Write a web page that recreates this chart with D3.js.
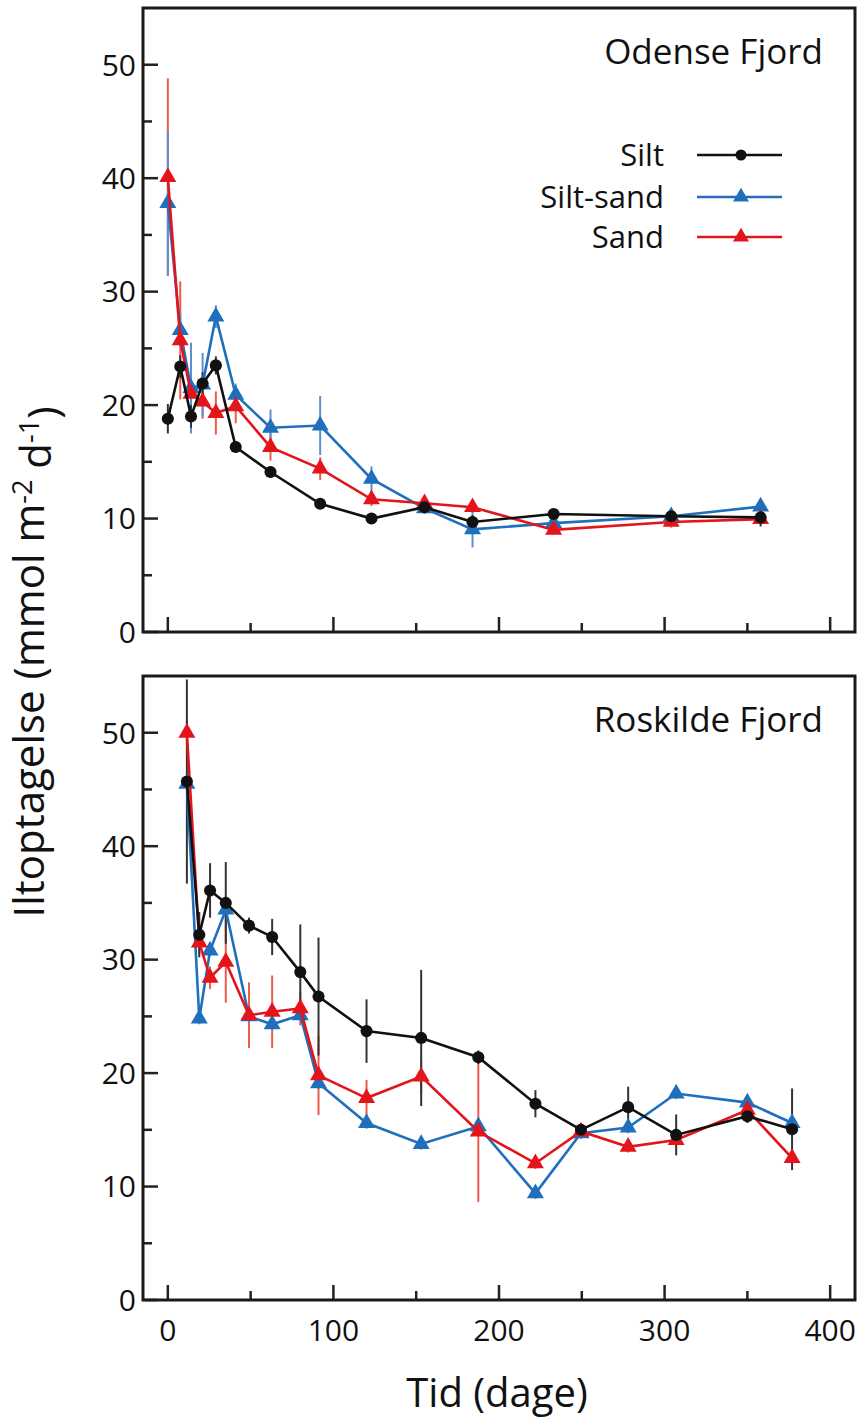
<!DOCTYPE html>
<html>
<head>
<meta charset="utf-8">
<script src="https://cdn.jsdelivr.net/npm/d3@7"></script>
<style>
  body { margin: 0; background: #fff; }
  text { font-family: "Open Sans", "Noto Sans", sans-serif; fill: #111; }
</style>
</head>
<body>
<div id="chart"></div>
<script>
// Odense Fjord (top)
const odenseDays = [0, 7.5, 14, 21, 29, 41, 62, 92, 123, 155, 184, 233, 304, 358];
const odenseSilt = [18.8, 23.4, 19.0, 21.9, 23.5, 16.3, 14.1, 11.3, 10.0, 11.0, 9.7, 10.4, 10.2, 10.1];
const odenseSiltSand = [37.8, 26.6, 21.5, 21.8, 27.8, 20.9, 18.0, 18.2, 13.5, 10.9, 9.05, 9.6, 10.2, 11.05];
const odenseSand = [40.1, 25.7, 21.0, 20.3, 19.3, 19.9, 16.3, 14.4, 11.7, 11.35, 11.0, 9.0, 9.7, 9.95];
const odenseSiltErr = [1.3, 1.0, 1.0, 1.0, 0.8, 0.5, 0.5, 0.4, 0.4, 0.5, 0.6, 0.4, 0.5, 0.8];
const odenseSiltSandErr = [6.4, 1.5, 4.0, 2.8, 1.0, 1.0, 1.6, 2.6, 1.1, 0.5, 1.6, 0.4, 0.5, 0.5];
const odenseSandErr = [8.7, 5.2, 2.0, 1.5, 1.9, 1.5, 1.2, 1.0, 0.6, 0.4, 0.5, 0.4, 0.5, 0.5];

// Roskilde Fjord (bottom)
const roskildeDays = [11.5, 19, 25.5, 35, 49, 63, 80, 91, 120, 153, 187.5, 222, 249.5, 278, 307, 350, 377];
const roskildeSilt = [45.7, 32.2, 36.1, 35.0, 33.0, 32.0, 28.9, 26.75, 23.7, 23.1, 21.4, 17.3, 15.0, 17.0, 14.55, 16.2, 15.05];
const roskildeSiltSand = [45.5, 24.8, 30.8, 34.4, 25.0, 24.3, 25.1, 19.1, 15.6, 13.75, 15.3, 9.4, 14.7, 15.2, 18.2, 17.4, 15.6];
const roskildeSand = [50.0, 31.5, 28.4, 29.8, 25.1, 25.4, 25.7, 19.8, 17.8, 19.7, 14.85, 12.05, 14.85, 13.5, 14.1, 16.75, 12.5];
const roskildeSiltErr = [9.0, 2.0, 2.4, 3.6, 0.7, 1.6, 4.2, 5.2, 2.8, 6.0, 0.6, 1.2, 0.5, 1.8, 1.8, 0.6, 3.6];
const roskildeSiltSandErr = [0.5, 0.5, 0.5, 1.0, 0.5, 0.5, 0.5, 0.5, 0.5, 0.5, 0.5, 0.5, 0.5, 0.5, 0.5, 0.5, 0.5];
const roskildeSandErr = [1.0, 1.0, 1.0, 3.6, 2.9, 3.2, 1.5, 3.5, 1.6, 1.5, 6.2, 0.5, 0.5, 0.5, 0.5, 0.5, 0.5];

const seriesNames = ["Silt", "Silt-sand", "Sand"];
const xTickLabels = [0, 100, 200, 300, 400];
const yTickLabels = [0, 10, 20, 30, 40, 50];

const colors = { "Silt": "#111111", "Silt-sand": "#1f6fbd", "Sand": "#e4141b" };
const errColors = { "Silt": "#333333", "Silt-sand": "#5b8fd0", "Sand": "#ef5a4a" };

const width = 859, height = 1419;
const svg = d3.select("#chart").append("svg")
  .attr("width", width)
  .attr("height", height);

const left = 143, right = 855;
const x = d3.scaleLinear().domain([-15, 415]).range([left, right]);

function drawPanel(top, bottom, title, days, vals, errs, showXLabels, showLegend) {
  const y = d3.scaleLinear().domain([0, 55]).range([bottom, top]);
  const g = svg.append("g");

  // ticks (inward)
  const yMinor = d3.range(0, 55, 5);
  g.selectAll(".ytick").data(yMinor).enter().append("line")
    .attr("x1", left).attr("x2", d => left + (d % 10 === 0 ? 15 : 9))
    .attr("y1", d => y(d)).attr("y2", d => y(d))
    .attr("stroke", "#222").attr("stroke-width", 2.5);
  const xMinor = d3.range(0, 401, 50);
  g.selectAll(".xtick").data(xMinor).enter().append("line")
    .attr("x1", d => x(d)).attr("x2", d => x(d))
    .attr("y1", bottom).attr("y2", d => bottom - (d % 100 === 0 ? 15 : 9))
    .attr("stroke", "#222").attr("stroke-width", 2.5);

  g.selectAll(".ylab").data(yTickLabels).enter().append("text")
    .attr("x", 136).attr("y", d => y(d)).attr("dy", "0.36em")
    .attr("text-anchor", "end").style("font-size", "30px")
    .text(d => d);

  if (showXLabels) {
    g.selectAll(".xlab").data(xTickLabels).enter().append("text")
      .attr("x", d => x(d)).attr("y", bottom + 41)
      .attr("text-anchor", "middle").style("font-size", "30px")
      .text(d => d);
  }

  // error bars (sand under silt-sand, silt on top)
  ["Sand", "Silt-sand", "Silt"].forEach(name => {
    const i = seriesNames.indexOf(name);
    g.selectAll(null).data(days).enter().append("line")
      .attr("x1", d => x(d)).attr("x2", d => x(d))
      .attr("y1", (d, j) => y(vals[i][j] + errs[i][j]))
      .attr("y2", (d, j) => y(vals[i][j] - errs[i][j]))
      .attr("stroke", errColors[name]).attr("stroke-width", 2);
  });

  // lines and markers
  ["Silt-sand", "Sand", "Silt"].forEach(name => {
    const i = seriesNames.indexOf(name);
    const pts = days.map((d, j) => [d, vals[i][j]]);
    const line = d3.line().x(d => x(d[0])).y(d => y(d[1]));
    g.append("path").datum(pts)
      .attr("d", line)
      .attr("fill", "none").attr("stroke", colors[name]).attr("stroke-width", 2.6);
    const sym = name === "Silt"
      ? d3.symbol().type(d3.symbolCircle).size(115)
      : d3.symbol().type(d3.symbolTriangle).size(125);
    g.selectAll(null).data(pts).enter().append("path")
      .attr("d", sym)
      .attr("transform", d => "translate(" + x(d[0]) + "," + y(d[1]) + ")")
      .attr("fill", colors[name]);
  });

  // frame
  g.append("rect")
    .attr("x", left).attr("y", top)
    .attr("width", right - left).attr("height", bottom - top)
    .attr("fill", "none").attr("stroke", "#1a1a1a").attr("stroke-width", 3);

  g.append("text")
    .attr("x", 823).attr("y", top + 56)
    .attr("text-anchor", "end").style("font-size", "35px")
    .text(title);

  if (showLegend) {
    const rows = [155, 197, 237];
    seriesNames.forEach((name, i) => {
      g.append("text")
        .attr("x", 664).attr("y", rows[i]).attr("dy", "0.35em")
        .attr("text-anchor", "end").style("font-size", "31px")
        .text(name);
      g.append("line")
        .attr("x1", 697).attr("x2", 782)
        .attr("y1", rows[i]).attr("y2", rows[i])
        .attr("stroke", colors[name]).attr("stroke-width", 2.5);
      const sym = name === "Silt"
        ? d3.symbol().type(d3.symbolCircle).size(95)
        : d3.symbol().type(d3.symbolTriangle).size(110);
      g.append("path").attr("d", sym)
        .attr("transform", "translate(741," + rows[i] + ")")
        .attr("fill", colors[name]);
    });
  }
}

drawPanel(8, 632, "Odense Fjord", odenseDays,
  [odenseSilt, odenseSiltSand, odenseSand],
  [odenseSiltErr, odenseSiltSandErr, odenseSandErr], false, true);

drawPanel(676, 1300, "Roskilde Fjord", roskildeDays,
  [roskildeSilt, roskildeSiltSand, roskildeSand],
  [roskildeSiltErr, roskildeSiltSandErr, roskildeSandErr], true, false);

// axis titles
svg.append("text")
  .attr("transform", "translate(44,662) rotate(-90)")
  .attr("text-anchor", "middle")
  .style("font-size", "42px")
  .call(t => {
    t.append("tspan").text("Iltoptagelse (mmol m");
    t.append("tspan").attr("dy", "-0.45em").style("font-size", "27px").text("-2");
    t.append("tspan").attr("dy", "0.45em").text(" d");
    t.append("tspan").attr("dy", "-0.45em").style("font-size", "27px").text("-1");
    t.append("tspan").attr("dy", "0.45em").text(")");
  });

svg.append("text")
  .attr("x", 497).attr("y", 1407)
  .attr("text-anchor", "middle")
  .style("font-size", "40px")
  .text("Tid (dage)");
</script>
</body>
</html>
